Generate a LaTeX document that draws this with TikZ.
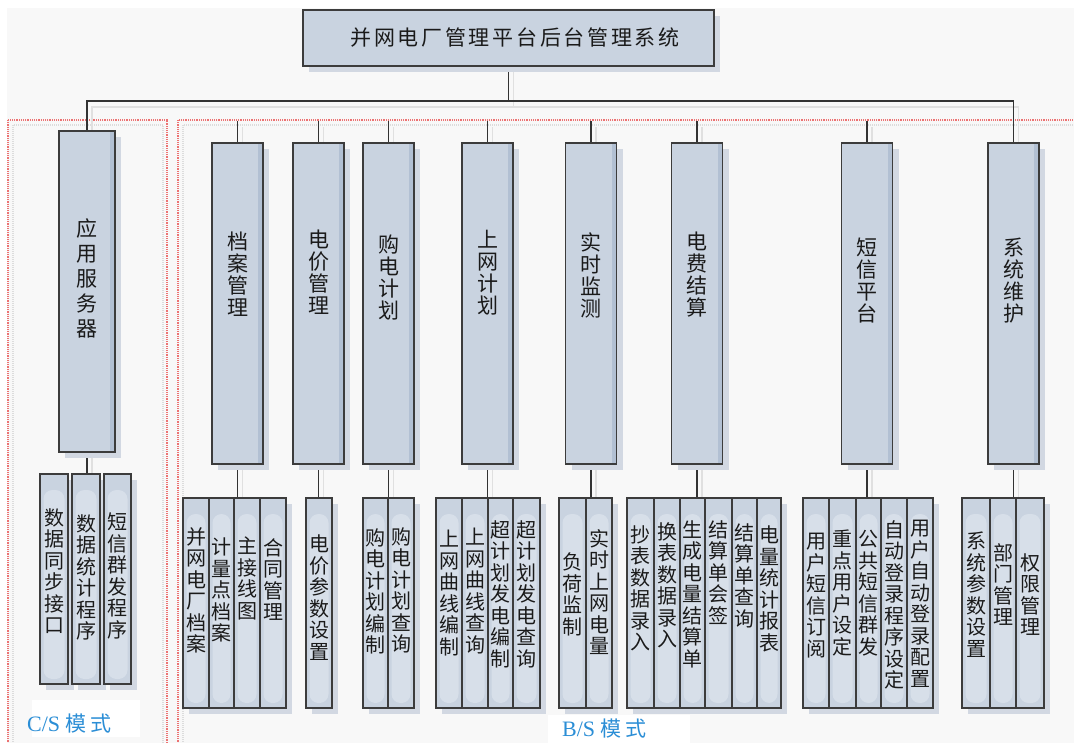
\documentclass[tikz,border=0pt]{standalone}
\usepackage{fontspec}
\setmainfont{Liberation Serif}
\newfontfamily\cjk{Noto Sans CJK SC}
\usetikzlibrary{shadows,calc}
\pgfdeclarelayer{back}
\pgfdeclarelayer{lines}
\pgfsetlayers{back,lines,main}
\definecolor{boxfill}{HTML}{C9D3E0}
\definecolor{hl}{HTML}{D7DFE9}
\definecolor{strip}{HTML}{B2C0D3}
\definecolor{shadowc}{HTML}{D2D8E2}
\definecolor{boxline}{HTML}{3C3C3C}
\definecolor{bgc}{HTML}{F8F8F8}
\definecolor{redc}{HTML}{EC7272}
\definecolor{dotgray}{HTML}{DCDCDC}
\definecolor{bluec}{HTML}{2B8ED6}
\definecolor{txt}{HTML}{1A1A1A}
\definecolor{connc}{HTML}{333333}
\definecolor{shadowline}{HTML}{E0E0E0}
\tikzset{
  base/.style={draw=boxline, line width=1.2pt, fill=boxfill, inner sep=0pt, outer sep=0pt,
    general shadow={fill=shadowc, shadow xshift=6pt, shadow yshift=-6pt}},
  topbox/.style={base, minimum width=51pt, minimum height=321pt,
    path picture={\fill[strip] ([xshift=-5pt]path picture bounding box.north east) rectangle (path picture bounding box.south east);}},
  leafbox/.style={base, minimum height=210pt,
    path picture={\fill[hl, rounded corners=9pt] ([shift={(3.5pt,-16pt)}]path picture bounding box.north west) rectangle ([shift={(-3.5pt,5pt)}]path picture bounding box.south east);}},
  vt/.style={inner sep=0pt, align=center, text=txt, font=\cjk\fontsize{20}{21.5}\selectfont},
  vtop/.style={inner sep=0pt, align=center, text=txt, font=\cjk\fontsize{21}{22}\selectfont},
  conn/.style={draw=connc, line width=1.2pt,
    preaction={draw=shadowline, line width=1.2pt, transform canvas={shift={(5pt,-6pt)}}}},
  redbox/.style={draw=redc, line width=2pt, dash pattern=on 1.2pt off 1pt},
  graybox/.style={draw=dotgray, line width=1.4pt, dash pattern=on 1pt off 1pt},
  lab/.style={inner sep=0pt, text=bluec, font=\fontsize{22}{24}\selectfont},
}
\newcommand\mkleaf[6]{%
  \node[leafbox, anchor=north west, minimum width={#3pt-#2pt}] (#1) at (#2,#4) {};
  \node[vt, anchor=north] (#1t) at ({(#2+#3)/2},#5) {#6};
}
\newcommand\mktop[5]{%
  \node[topbox] (#1) at (#2,303.5) {};
  \node[vtop, anchor=north] (#1t) at (#2,#3) {#5};
}
\begin{document}
\begin{tikzpicture}[x=1pt,y=-1pt]
\useasboundingbox (0,0) rectangle (1074,743);
\begin{pgfonlayer}{back}
\fill[white] (0,0) rectangle (1074,743);
\fill[bgc] (7,8) rectangle (1074,743);
\draw[graybox] (13,125) rectangle (163,760);
\draw[graybox] (183,125) rectangle (1090,760);
\draw[redbox] (8,120) rectangle (167,760);
\draw[redbox] (178,120) rectangle (1090,760);
\end{pgfonlayer}
% title
\node[base, minimum width=411pt, minimum height=56pt] (title) at (508.5,38) {};
\node[inner sep=0pt, text=txt, font=\cjk\fontsize{21}{24}\selectfont] (titlet) at (515,38)
  {并\hskip2.7pt 网\hskip2.7pt 电\hskip2.7pt 厂\hskip2.7pt 管\hskip2.7pt 理\hskip2.7pt 平\hskip2.7pt 台\hskip2.7pt 后\hskip2.7pt 台\hskip2.7pt 管\hskip2.7pt 理\hskip2.7pt 系\hskip2.7pt 统};
% application server
\node[topbox, minimum width=56pt] (app) at (87,291.5) {};
\node[vtop, anchor=north, font=\cjk\fontsize{21}{25}\selectfont] (appt) at (87,218) {应\\用\\服\\务\\器};
% B/S top boxes
\mktop{dangan}{237.5}{232}{}{档\\案\\管\\理}
\mktop{dianjia}{318.5}{230}{}{电\\价\\管\\理}
\mktop{goudian}{388.5}{235}{}{购\\电\\计\\划}
\mktop{shangwang}{487.5}{230}{}{上\\网\\计\\划}
\mktop{shishi}{591}{233}{}{实\\时\\监\\测}
\mktop{dianfei}{697}{232}{}{电\\费\\结\\算}
\mktop{duanxin}{867}{238}{}{短\\信\\平\\台}
\mktop{xitong}{1013.5}{238}{}{系\\统\\维\\护}
% leaves
\mkleaf{cs1}{40}{68}{474}{508}{数\\据\\同\\步\\接\\口}
\mkleaf{cs2}{72}{100}{474}{514}{数\\据\\统\\计\\程\\序}
\mkleaf{cs3}{104}{131}{474}{513}{短\\信\\群\\发\\程\\序}
\mkleaf{da1}{183}{209}{498}{527}{并\\网\\电\\厂\\档\\案}
\mkleaf{da2}{209}{234}{498}{538}{计\\量\\点\\档\\案}
\mkleaf{da3}{234}{260}{498}{537}{主\\接\\线\\图}
\mkleaf{da4}{260}{286}{498}{538}{合\\同\\管\\理}
\mkleaf{dj1}{306}{332}{498}{535}{电\\价\\参\\数\\设\\置}
\mkleaf{gd1}{363}{388}{498}{528}{购\\电\\计\\划\\编\\制}
\mkleaf{gd2}{388}{414}{498}{527}{购\\电\\计\\划\\查\\询}
\mkleaf{sw1}{436}{462}{498}{530}{上\\网\\曲\\线\\编\\制}
\mkleaf{sw2}{462}{488}{498}{528}{上\\网\\曲\\线\\查\\询}
\mkleaf{sw3}{488}{513}{498}{520}{超\\计\\划\\发\\电\\编\\制}
\mkleaf{sw4}{513}{540}{498}{520}{超\\计\\划\\发\\电\\查\\询}
\mkleaf{ss1}{559}{586}{498}{553}{负\\荷\\监\\制}
\mkleaf{ss2}{586}{612}{498}{529}{实\\时\\上\\网\\电\\量}
\mkleaf{df1}{627}{654}{498}{525}{抄\\表\\数\\据\\录\\入}
\mkleaf{df2}{654}{680}{498}{522}{换\\表\\数\\据\\录\\入}
\mkleaf{df3}{680}{705}{498}{520}{生\\成\\电\\量\\结\\算\\单}
\mkleaf{df4}{705}{732}{498}{520}{结\\算\\单\\会\\签}
\mkleaf{df5}{732}{757}{498}{523}{结\\算\\单\\查\\询}
\mkleaf{df6}{757}{781}{498}{526}{电\\量\\统\\计\\报\\表}
\mkleaf{dx1}{803}{829}{498}{533}{用\\户\\短\\信\\订\\阅}
\mkleaf{dx2}{829}{856}{498}{530}{重\\点\\用\\户\\设\\定}
\mkleaf{dx3}{856}{881}{498}{530}{公\\共\\短\\信\\群\\发}
\mkleaf{dx4}{881}{907}{498}{520}{自\\动\\登\\录\\程\\序\\设\\定}
\mkleaf{dx5}{907}{933}{498}{520}{用\\户\\自\\动\\登\\录\\配\\置}
\mkleaf{xt1}{962}{990}{498}{532}{系\\统\\参\\数\\设\\置}
\mkleaf{xt2}{990}{1016}{498}{543}{部\\门\\管\\理}
\mkleaf{xt3}{1016}{1044}{498}{553}{权\\限\\管\\理}
% connectors
\begin{pgfonlayer}{lines}
\draw[conn] (title.south) -- ++(0,35) coordinate (bj);
\draw[conn] (app.north) |- (bj) -| (xitong.north);
\foreach \n in {dangan,dianjia,goudian,shangwang,shishi,dianfei,duanxin}
  \draw[conn] (\n.north) -- ++(0,-22) coordinate (\n-stub);
\draw[conn] (app.south) -- (app.south |- cs2.north);
\draw[conn] (dangan.south) -- (dangan.south |- da3.north);
\draw[conn] (dianjia.south) -- (dianjia.south |- dj1.north);
\draw[conn] (goudian.south) -- (goudian.south |- gd2.north);
\draw[conn] (shangwang.south) -- (shangwang.south |- sw3.north);
\draw[conn] (shishi.south) -- (shishi.south |- ss2.north);
\draw[conn] (dianfei.south) -- (dianfei.south |- df3.north);
\draw[conn] (duanxin.south) -- (duanxin.south |- dx3.north);
\draw[conn] (xitong.south) -- (xitong.south |- xt2.north);
\end{pgfonlayer}
% mode labels
\fill[white] (32,700) rectangle (140,737);
\node[lab, anchor=west] (cslab) at (27,724) {C/S {\cjk\fontsize{21}{24}\selectfont 模\hskip4pt 式}};
\fill[white] (548,715) rectangle (690,743);
\node[lab, anchor=west] (bslab) at (562,729) {B/S {\cjk\fontsize{21}{24}\selectfont 模\hskip4pt 式}};
\end{tikzpicture}
\end{document}
